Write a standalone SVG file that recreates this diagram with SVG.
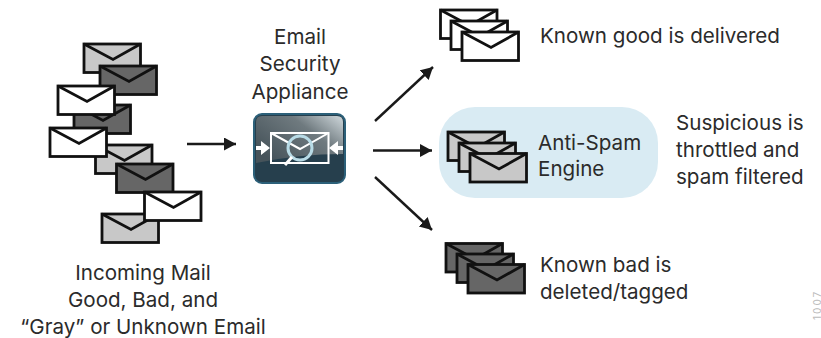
<svg xmlns="http://www.w3.org/2000/svg" width="821" height="338" viewBox="0 0 821 338">
<style>
text{font-family:"Inter","Liberation Sans",sans-serif;font-size:20.6px;fill:#2b2b2b}
.m{text-anchor:middle}
.env{stroke:#111;stroke-width:2.8}
.g{fill:#c8c8c8}.d{fill:#666}.w{fill:#fff}
.c line{stroke:#1a1a1a;stroke-width:2.4;marker-end:url(#a)}
</style>
<defs>
<marker id="a" markerUnits="userSpaceOnUse" markerWidth="13" markerHeight="14" refX="12" refY="6.500" orient="auto"><path d="M0 0L12 6.500L0 13z" fill="#1a1a1a"/></marker>
<g id="e"><rect x="0" y="0" width="56.500" height="28.500"/><path d="M0 0L29 15.500L56.500 0" fill="none"/></g>
<linearGradient id="b" x1="0" y1="0.700" x2="1" y2="0"><stop offset="0" stop-color="#46535a"/><stop offset=".6" stop-color="#6f7a7f"/><stop offset=".95" stop-color="#c3ccd0"/></linearGradient>
</defs>
<g id="incoming-mail">
<use href="#e" class="env g" x="84" y="44"/>
<use href="#e" class="env d" x="100" y="66"/>
<use href="#e" class="env d" x="74" y="105"/>
<use href="#e" class="env w" x="58" y="86"/>
<use href="#e" class="env g" x="95.500" y="145"/>
<use href="#e" class="env w" x="50" y="128"/>
<use href="#e" class="env d" x="116.500" y="164"/>
<use href="#e" class="env g" x="102" y="214"/>
<use href="#e" class="env w" x="144.500" y="192"/>
<text class="m" x="143" y="280">Incoming Mail</text>
<text class="m" x="143" y="307">Good, Bad, and</text>
<text class="m" x="143" y="334">“Gray” or Unknown Email</text>
</g>
<g id="appliance">
<text class="m" x="300" y="44">Email</text>
<text class="m" x="300" y="71">Security</text>
<text class="m" x="300" y="99">Appliance</text>
<rect x="254" y="114" width="91" height="69" rx="8" fill="#263f4d" stroke="#2c6079" stroke-width="2"/>
<path d="M256 122q0-6 6-6h75q6 0 6 6v32q-44 0-87 9z" fill="url(#b)"/>
<rect x="271" y="133" width="57.500" height="30" fill="none" stroke="#fff" stroke-width="2"/>
<path d="M271 133L300 149L328.500 133" fill="none" stroke="#fff" stroke-width="2"/>
<circle cx="300" cy="148" r="12" fill="none" stroke="#b8dbe6" stroke-width="3"/>
<line x1="292" y1="157" x2="285" y2="165" stroke="#fff" stroke-width="3"/>
<path d="M256 146h5v-5l9 7l-9 7v-5h-5zM343 146h-5v-5l-9 7l9 7v-5h5z" fill="#fff"/>
</g>
<g id="connectors" class="c">
<line x1="187" y1="144" x2="236" y2="144"/>
<line x1="375" y1="121" x2="433" y2="67"/>
<line x1="373" y1="150.500" x2="432" y2="150.500"/>
<line x1="375" y1="177" x2="432" y2="230"/>
</g>
<g id="known-good">
<use href="#e" class="env w" x="440.500" y="10"/>
<use href="#e" class="env w" x="451" y="21"/>
<use href="#e" class="env w" x="462" y="32"/>
<text x="540" y="43">Known good is delivered</text>
</g>
<g id="anti-spam">
<rect x="439" y="107" width="219" height="91" rx="36" fill="#d9ebf3"/>
<use href="#e" class="env g" x="448" y="132"/>
<use href="#e" class="env g" x="459" y="143"/>
<use href="#e" class="env g" x="470" y="153.500"/>
<text x="538" y="150">Anti-Spam</text>
<text x="538" y="176">Engine</text>
</g>
<g id="suspicious">
<text x="676" y="130">Suspicious is</text>
<text x="676" y="157">throttled and</text>
<text x="676" y="184">spam filtered</text>
</g>
<g id="known-bad">
<use href="#e" class="env d" x="446" y="243.500"/>
<use href="#e" class="env d" x="457" y="254"/>
<use href="#e" class="env d" x="468" y="264.500"/>
<text x="540" y="272">Known bad is</text>
<text x="540" y="299">deleted/tagged</text>
</g>
<text transform="translate(820.500 320) rotate(-90)" style="font-size:10px;letter-spacing:2px;fill:#bbb">1007</text>
</svg>
